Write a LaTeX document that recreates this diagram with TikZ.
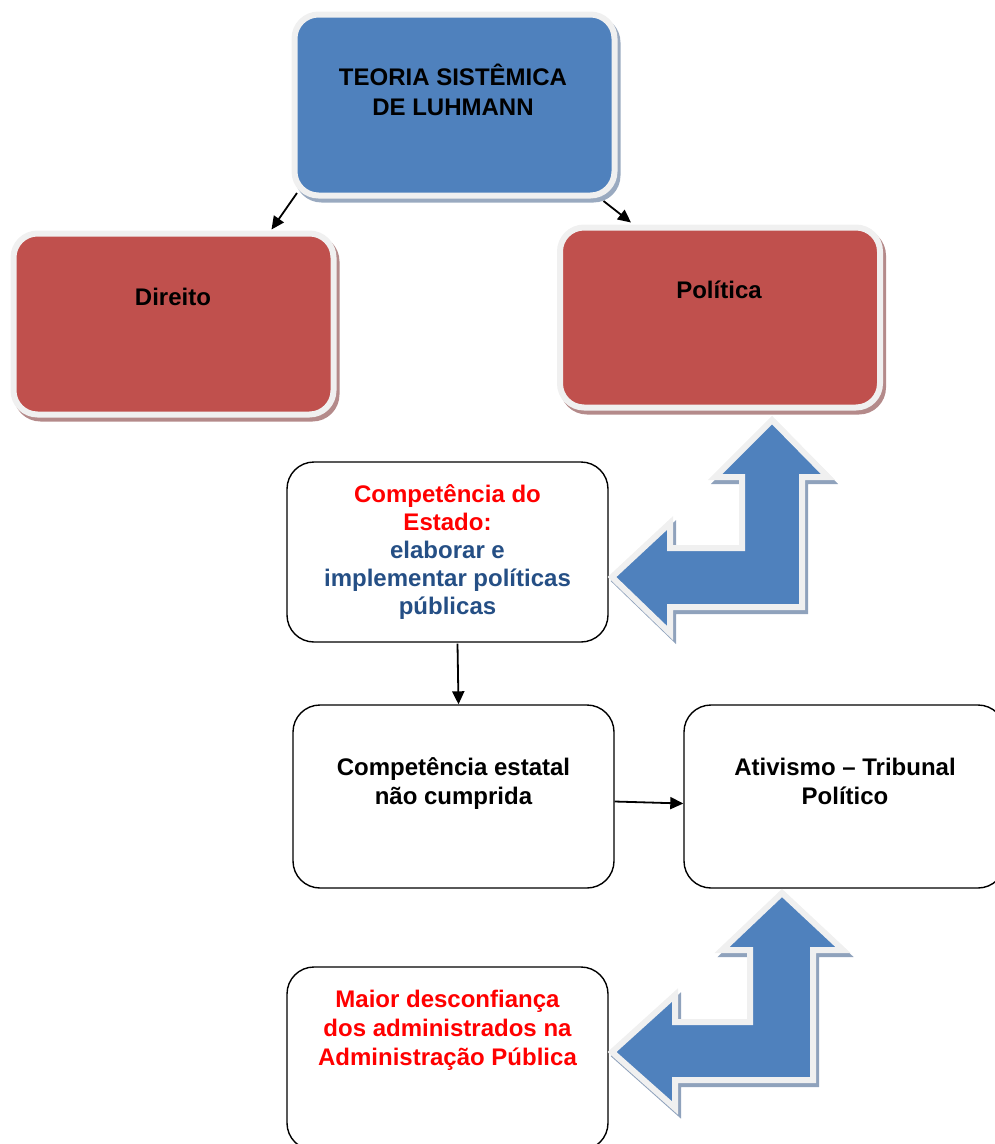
\documentclass[tikz,border=0pt]{standalone}
\usepackage{fontspec}
\setmainfont{Liberation Sans}
\usetikzlibrary{arrows.meta,calc}
\definecolor{boxblue}{HTML}{4F81BD}
\definecolor{boxred}{HTML}{C0504D}
\definecolor{edgewhite}{HTML}{F0F0F0}
\definecolor{shblue}{HTML}{9AAAC0}
\definecolor{shred}{HTML}{B48A8A}
\definecolor{sharrow}{HTML}{8FA2BC}
\definecolor{txtblue}{HTML}{254F85}
\definecolor{txtred}{HTML}{FF0000}
\begin{document}
\begin{tikzpicture}[x=1pt,y=-1pt,
  shadebox/.style={rounded corners=24pt, line width=6pt, draw=edgewhite,
    inner sep=0pt, minimum width=#1},
  shadebox/.default=318pt,
  blueshadow/.style={preaction={draw=shblue, fill=shblue, line width=6pt,
    transform canvas={xshift=3pt,yshift=-4pt}}},
  redshadow/.style={preaction={draw=shred, fill=shred, line width=6pt,
    transform canvas={xshift=3pt,yshift=-4pt}}},
  plainbox/.style={rounded corners=27pt, draw=black, line width=1.4pt, fill=white,
    inner sep=0pt, minimum width=321pt, minimum height=182pt},
  txt/.style={font=\bfseries\fontsize{24}{29}\selectfont, align=center, inner sep=0pt},
  conn/.style={draw=black, line width=1.8pt, -{Triangle[length=13pt,width=12pt]}},
  bentarrow/.style={fill=boxblue, draw=edgewhite, line width=6pt, line join=miter,
    preaction={draw=sharrow, fill=sharrow, line width=6pt, line join=miter,
      transform canvas={xshift=3pt,yshift=-4pt}}}
]
\useasboundingbox (0,0) rectangle (995,1144);
\clip (0,0) rectangle (995,1144);

% shaded boxes
\node[shadebox=320pt, minimum height=181pt, fill=boxblue, blueshadow] (teoria) at (454.5,105) {};
\node[shadebox=320pt, minimum height=181pt, fill=boxred, redshadow] (direito) at (173.5,324) {};
\node[shadebox=320pt, minimum height=180pt, fill=boxred, redshadow] (politica) at (720,317.5) {};

\node[txt, font=\bfseries\fontsize{24}{30}\selectfont] (tteoria) at (453,90) {TEORIA SISTÊMICA\\DE LUHMANN};
\node[txt] (tdireito) at (173,297) {Direito};
\node[txt] (tpolitica) at (719,290) {Política};

% plain boxes
\node[plainbox, minimum height=180pt] (estado) at (447.5,552) {};
\node[plainbox, minimum height=183pt] (cumprida) at (453.5,796.5) {};
\node[plainbox, minimum height=183pt] (ativismo) at (844.5,796.5) {};
\node[plainbox, minimum height=183pt] (maior) at (447.5,1058.5) {};

\node[txt, font=\bfseries\fontsize{24}{28}\selectfont] (testado) at (447.5,552.5) {\textcolor{txtred}{Competência do}\\\textcolor{txtred}{Estado:}\\\textcolor{txtblue}{elaborar e}\\\textcolor{txtblue}{implementar políticas}\\\textcolor{txtblue}{públicas}};
\node[txt] (tcumprida) at (453.5,784) {Competência estatal\\não cumprida};
\node[txt] (tativismo) at (845,781) {Ativismo – Tribunal\\Político};
\node[txt, text=txtred] (tmaior) at (447.5,1030.5) {Maior desconfiança\\dos administrados na\\Administração Pública};

% connectors
\draw[conn] ([shift={(5.5,-5.5)}]teoria.south west) -- ([shift={(-65,-1)}]direito.north east);
\draw[conn] ([shift={(-14,2.5)}]teoria.south east) -- ([shift={(74,-2)}]politica.north west);
\draw[conn] ([shift={(10,1)}]estado.south) -- ([shift={(5,0)}]cumprida.north);
\draw[conn] ([shift={(0,5)}]cumprida.east) -- ([shift={(0,7)}]ativismo.west);

% bent arrows
\path[bentarrow] (772,420) -- (828,477) -- (802,477) -- (802,607) -- (670,607)
  -- (670,633) -- (612,577) -- (670,523) -- (670,548) -- (742,548) -- (742,477)
  -- (715,477) -- cycle;
\path[bentarrow] (782,893) -- (843,950) -- (813,950) -- (813,1080) -- (675,1080)
  -- (675,1108) -- (612,1052) -- (675,995) -- (675,1022) -- (750,1022) -- (750,950)
  -- (722,950) -- cycle;
\end{tikzpicture}
\end{document}
